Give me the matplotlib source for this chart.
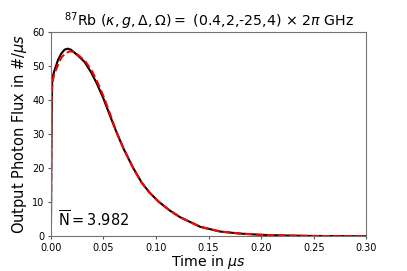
import numpy as np
import matplotlib
matplotlib.use("Agg")
import matplotlib.pyplot as plt

# values (time in us, flux in #/us)
t_sim = [0.0, 0.0002, 0.0005, 0.0008, 0.0012, 0.002, 0.0035, 0.0067, 0.0098, 0.013,
         0.016, 0.019, 0.0257, 0.032, 0.038, 0.0435, 0.0498, 0.056, 0.0625, 0.069,
         0.0784, 0.0865, 0.094, 0.102, 0.113, 0.123, 0.142, 0.161, 0.18, 0.199,
         0.22, 0.25, 0.275, 0.3]
flux_sim = [0.0, 10.0, 25.0, 38.0, 45.0, 47.2, 48.8, 51.7, 53.6, 54.8,
            55.1, 54.8, 53.1, 51.2, 48.3, 45.0, 40.6, 35.6, 30.5, 25.8,
            20.0, 15.7, 12.8, 10.3, 7.6, 5.6, 2.8, 1.4, 0.8, 0.45,
            0.25, 0.1, 0.05, 0.02]

t_fit = [0.0, 0.0002, 0.0005, 0.0008, 0.0012, 0.002, 0.0035, 0.007, 0.010, 0.014,
         0.018, 0.021, 0.027, 0.033, 0.039, 0.045, 0.0505, 0.0565, 0.0625, 0.069,
         0.0784, 0.0865, 0.094, 0.102, 0.113, 0.123, 0.142, 0.161, 0.18, 0.199,
         0.22, 0.25, 0.275, 0.3]
flux_fit = [0.0, 9.0, 23.0, 36.0, 43.5, 46.0, 47.8, 50.5, 52.5, 53.8,
            54.3, 54.2, 53.0, 51.3, 48.6, 44.8, 40.8, 35.8, 30.6, 25.9,
            20.0, 15.7, 12.8, 10.3, 7.6, 5.6, 2.8, 1.4, 0.8, 0.45,
            0.25, 0.1, 0.05, 0.02]

N_mean = 3.982

fig = plt.figure(figsize=(4.07, 2.71), dpi=100)
ax = fig.add_axes([0.125, 0.128, 0.775, 0.754])
ax.plot(t_sim, flux_sim, color="k", lw=1.5)
ax.plot(t_fit, flux_fit, color="r", lw=1.5, ls="--")
ax.set_xlim(0, 0.3)
ax.set_ylim(0, 60)
ax.set_xticks(np.arange(0, 0.31, 0.05))
ax.set_yticks(np.arange(0, 61, 10))
ax.tick_params(labelsize=7, color="0.35", length=2.5, pad=2)
for s in ax.spines.values():
    s.set_color("0.45")
ax.set_xlabel(r"Time in $\mu s$", fontsize=10.2, labelpad=0.5)
ax.set_ylabel(r"Output Photon Flux in #/$\mu s$", fontsize=10.5, labelpad=2)
ax.set_title(r"$^{87}$Rb $(\kappa,g,\Delta,\Omega) =$ (0.4,2,-25,4) $\times$ 2$\pi$ GHz",
             fontsize=10.2, pad=4)
ax.text(0.022, 0.045, r"$\overline{\mathrm{N}} = %.3f$" % N_mean, transform=ax.transAxes,
        fontsize=10.5)
fig.savefig("out.png", dpi=100)
